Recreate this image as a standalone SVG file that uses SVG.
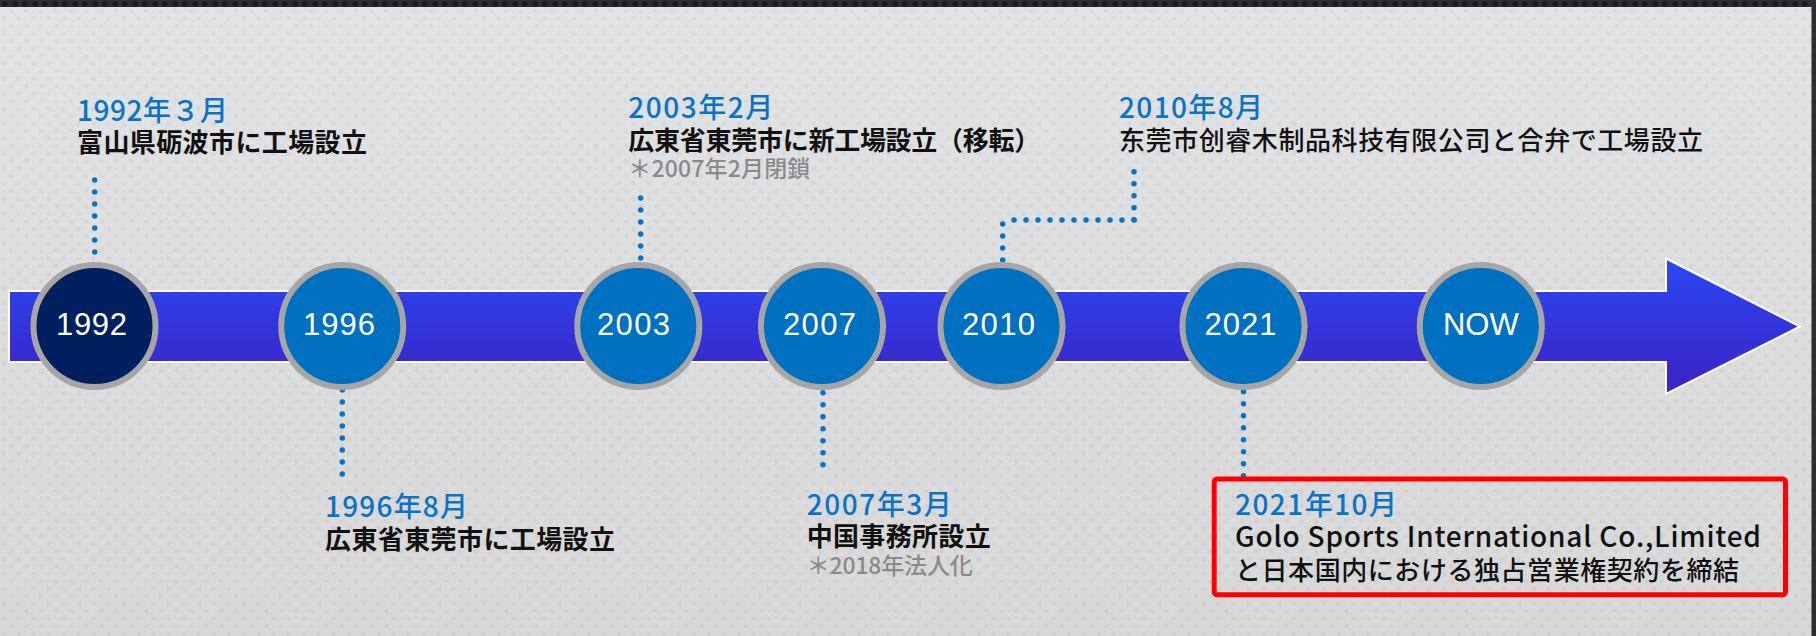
<svg xmlns="http://www.w3.org/2000/svg" width="1816" height="636" viewBox="0 0 1816 636">
<defs>
<style>
.node-ring{stroke:#a6a6a6;stroke-width:6}
.node-fill{fill:#0070c0}
.node-dark{fill:#001f5f}
.node-label{font-family:"Liberation Sans",Arial,sans-serif;font-size:31px;fill:#ffffff;text-anchor:middle}
.date{font-family:"Noto Sans CJK JP",sans-serif;font-size:28px;font-weight:500;fill:#0a73c3}
.main{font-family:"Noto Sans CJK JP",sans-serif;font-size:26px;font-weight:700;fill:#111111}
.main-m{font-family:"Noto Sans CJK JP",sans-serif;font-size:26px;font-weight:500;fill:#111111}
.box-text{font-family:"Noto Sans CJK JP",sans-serif;font-size:26px;font-weight:500;fill:#111111}
.box-latin{font-family:"Noto Sans CJK JP",sans-serif;font-size:28px;font-weight:500;fill:#111111}
.note{font-family:"Noto Sans CJK JP",sans-serif;font-size:23px;font-weight:500;fill:#8a8a8a}
.dotline{fill:none;stroke:#0a73c3;stroke-width:5.5;stroke-linecap:round;stroke-dasharray:0 12}
</style>
<linearGradient id="bgGrad" x1="0" y1="0" x2="0" y2="1">
<stop offset="0" stop-color="#e2e3e5"/>
<stop offset="1" stop-color="#d8d8d9"/>
</linearGradient>
<pattern id="dots" width="15" height="15" patternUnits="userSpaceOnUse">
<circle cx="3.75" cy="3.75" r="2.4" fill="#000000" fill-opacity="0.035"/>
<circle cx="11.25" cy="11.25" r="2.4" fill="#000000" fill-opacity="0.035"/>
</pattern>
<pattern id="darkdots" width="10" height="10" patternUnits="userSpaceOnUse">
<circle cx="5" cy="4" r="3" fill="#1a1c20"/>
</pattern>
<linearGradient id="arrowGrad" gradientUnits="userSpaceOnUse" x1="0" y1="258" x2="0" y2="394">
<stop offset="0" stop-color="#2a48f2"/>
<stop offset="1" stop-color="#3b22c4"/>
</linearGradient>
</defs>

<rect x="0" y="0" width="1816" height="636" fill="url(#bgGrad)"/>
<rect x="0" y="0" width="1816" height="636" fill="url(#dots)"/>
<rect x="0" y="0" width="1816" height="7" fill="#2c2e33"/>
<rect x="0" y="0" width="1816" height="7" fill="url(#darkdots)"/>
<rect x="1811.5" y="0" width="4.5" height="636" fill="#2c2e33"/>

<g id="timeline-arrow">
<path d="M9,291 L1666,291 L1666,258.5 L1800,326.5 L1666,394 L1666,362 L9,362 Z" fill="url(#arrowGrad)" stroke="#ffffff" stroke-width="2" stroke-linejoin="miter"/>
</g>

<g id="connectors">
<path class="dotline" d="M94.7,180 V264"/>
<path class="dotline" d="M342.3,390 V474.3"/>
<path class="dotline" d="M640.7,198 V259"/>
<path class="dotline" d="M823,392.7 V476.7"/>
<path class="dotline" d="M1002.7,260 V220"/>
<path class="dotline" d="M1134,220 H1002"/>
<path class="dotline" d="M1134,171.7 V220"/>
<path class="dotline" d="M1243.5,391.7 V476"/>
</g>

<g id="node-1992"><circle cx="94.5" cy="326" r="61" class="node-ring node-dark"/><text x="91.5" y="334.5" class="node-label" textLength="71">1992</text></g>
<g id="node-1996"><circle cx="342.2" cy="326" r="61" class="node-ring node-fill"/><text x="339" y="334.5" class="node-label" textLength="72">1996</text></g>
<g id="node-2003"><circle cx="638.3" cy="326" r="61" class="node-ring node-fill"/><text x="633.5" y="334.5" class="node-label" textLength="73">2003</text></g>
<g id="node-2007"><circle cx="822" cy="326" r="61" class="node-ring node-fill"/><text x="819.5" y="334.5" class="node-label" textLength="73">2007</text></g>
<g id="node-2010"><circle cx="1001.5" cy="326" r="61" class="node-ring node-fill"/><text x="998.5" y="334.5" class="node-label" textLength="73">2010</text></g>
<g id="node-2021"><circle cx="1243.5" cy="326" r="61" class="node-ring node-fill"/><text x="1240.5" y="334.5" class="node-label" textLength="72">2021</text></g>
<g id="node-now"><circle cx="1480.8" cy="326" r="61" class="node-ring node-fill"/><text x="1480.8" y="334.5" class="node-label">NOW</text></g>

<g id="event-1992">
<text x="77" y="120.7" class="date" textLength="151">1992年３月</text>
<text x="77" y="152" class="main" textLength="290">富山県砺波市に工場設立</text>
</g>
<g id="event-1996">
<text x="325" y="516.7" class="date" textLength="143">1996年8月</text>
<text x="325" y="548.5" class="main" textLength="290">広東省東莞市に工場設立</text>
</g>
<g id="event-2003">
<text x="628.3" y="118.3" class="date" textLength="145">2003年2月</text>
<text x="628.3" y="149.5" class="main" textLength="412">広東省東莞市に新工場設立（移転）</text>
<text x="628.3" y="177" class="note" textLength="182">＊2007年2月閉鎖</text>
</g>
<g id="event-2007">
<text x="806.7" y="515" class="date" textLength="145">2007年3月</text>
<text x="806.7" y="546.3" class="main" textLength="184">中国事務所設立</text>
<text x="806.7" y="574" class="note" textLength="166">＊2018年法人化</text>
</g>
<g id="event-2010">
<text x="1119" y="118.3" class="date" textLength="144">2010年8月</text>
<text x="1119" y="149.5" class="main-m" textLength="584">东莞市创睿木制品科技有限公司と合弁で工場設立</text>
</g>
<g id="event-2021">
<rect x="1214.2" y="479" width="571.3" height="115.8" rx="3" fill="none" stroke="#ff0000" stroke-width="5"/>
<text x="1235" y="515" class="date" textLength="162">2021年10月</text>
<text x="1235" y="547.3" class="box-latin" textLength="526">Golo Sports International Co.,Limited</text>
<text x="1235" y="579.5" class="box-text" textLength="504">と日本国内における独占営業権契約を締結</text>
</g>
</svg>
